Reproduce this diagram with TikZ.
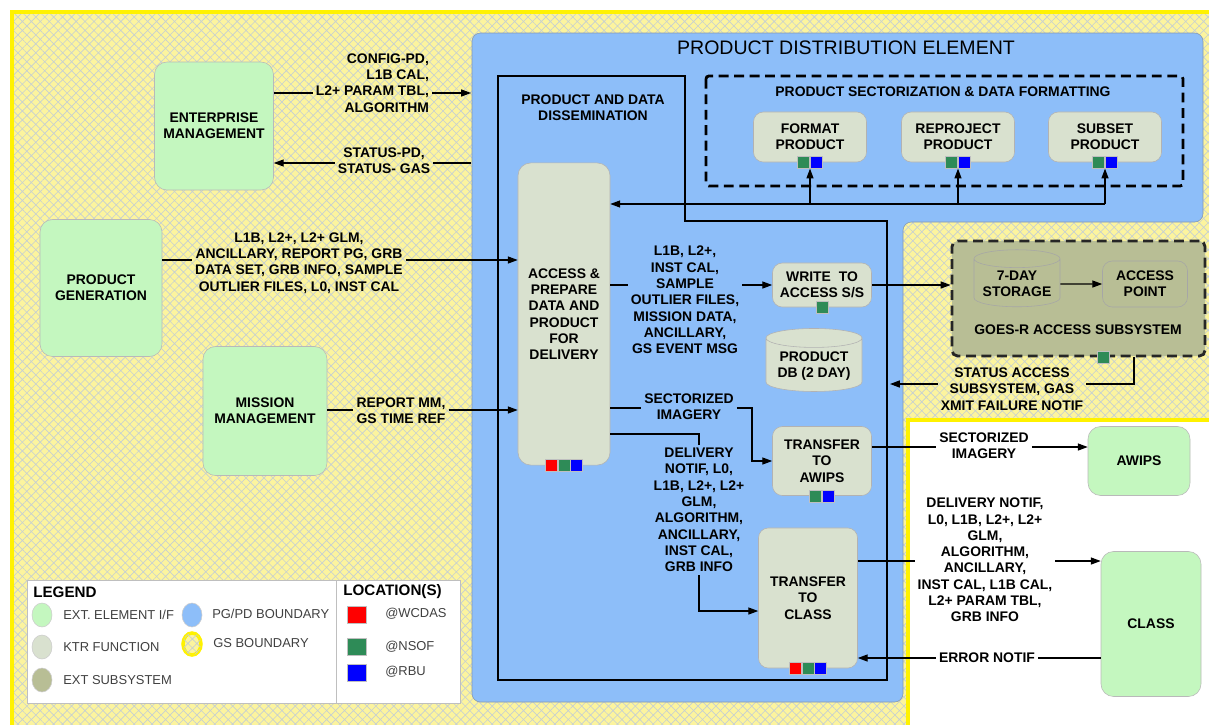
\documentclass[tikz,border=0pt]{standalone}
\usepackage{fontspec}
\setmainfont{Liberation Sans}
\usetikzlibrary{arrows.meta, shapes.geometric, patterns.meta}
\definecolor{gsyellow}{HTML}{FCF49E}
\definecolor{gshatch}{HTML}{C5CFD2}
\definecolor{pdblue}{HTML}{8DBEF9}
\definecolor{extfill}{HTML}{C4F7BF}
\definecolor{ktrfill}{HTML}{D9E1CF}
\definecolor{subfill}{HTML}{B8BE95}
\definecolor{wcdas}{HTML}{FF0000}
\definecolor{nsof}{HTML}{2E8B57}
\definecolor{rbu}{HTML}{0000FF}
\newcommand{\tagfont}{\fontsize{9.9}{11.6}\selectfont\bfseries}

\begin{document}
\begin{tikzpicture}[x=0.025cm, y=-0.025cm,
    extel/.style={draw=gray!55, fill=extfill, rounded corners=9pt, align=center, font=\tagfont, inner sep=2pt},
    ktr/.style={draw=gray!60, fill=ktrfill, rounded corners=7pt, align=center, font=\tagfont, inner sep=2pt},
    db/.style={cylinder, shape border rotate=90, aspect=0.25, draw=gray!60, fill=ktrfill, align=center, font=\tagfont, inner sep=1pt},
    txt/.style={align=center, font=\tagfont, inner sep=2pt},
    loc/.style={draw=gray!50, minimum width=0.3cm, minimum height=0.3cm, inner sep=0pt},
    link/.style={line width=0.8pt},
    flow/.style={link, -{Triangle[length=7pt, width=5pt]}},
    gs/.style={pattern={Hatch[angle=45, distance=4.5pt, line width=0.45pt]}, pattern color=gshatch},
    legtxt/.style={font=\fontsize{9.2}{10}\selectfont, text=black!75, anchor=west, inner sep=0pt}]
    \useasboundingbox (0,0) rectangle (1209,724);

    \fill[white] (0,0) rectangle (1209,724);
    \fill[gsyellow] (12,12) rectangle (1215,730);
    \fill[gs] (12,12) rectangle (1215,730);
    \draw[yellow, line width=3.5pt] (12,730) -- (12,12) -- (1215,12);
    \fill[white] (908,420) rectangle (1215,730);
    \draw[yellow, line width=3pt] (908,730) -- (908,420) -- (1215,420);

    \draw[gray!60!pdblue, fill=pdblue, rounded corners=6pt] (472,33) -- (1203,33) -- (1203,222) -- (903,222) -- (903,702) -- (472,702) -- cycle;
    \node[font=\fontsize{13.9}{15}\selectfont] (pd-title) at (846,48) {PRODUCT DISTRIBUTION ELEMENT};

    \draw[line width=1.3pt] (498,76) -- (685,76) -- (685,221) -- (887,221) -- (887,680) -- (498,680) -- cycle;
    \node[txt] (pdd-title) at (593,108) {PRODUCT AND DATA\\DISSEMINATION};
    \draw[line width=2pt, dash pattern=on 7pt off 4pt, rounded corners=2pt] (706,76) rectangle (1183,186);
    \node[txt] (sec-title) at (943,92) {PRODUCT SECTORIZATION \& DATA FORMATTING};

    \node[extel, minimum width=2.975cm, minimum height=3.2cm] (ent) at (214,126) {ENTERPRISE\\MANAGEMENT};
    \node[extel, minimum width=3.05cm, minimum height=3.425cm] (pgen) at (101,288) {PRODUCT\\GENERATION};
    \node[extel, minimum width=3.1cm, minimum height=3.225cm] (mm) at (265,411) {MISSION\\MANAGEMENT};
    \node[extel, minimum width=2.55cm, minimum height=1.725cm] (awips) at (1139,461) {AWIPS};
    \node[extel, minimum width=2.5cm, minimum height=3.625cm] (class) at (1151,624) {CLASS};

    \node[ktr, rounded corners=9pt, minimum width=2.3cm, minimum height=7.55cm] (access) at (564,314) {ACCESS \&\\PREPARE\\DATA AND\\PRODUCT\\FOR\\DELIVERY};
    \node[loc, fill=nsof] (access-n) at (access.south) {};
    \node[loc, fill=wcdas, anchor=east] (access-w) at (access-n.west) {};
    \node[loc, fill=rbu, anchor=west] (access-r) at (access-n.east) {};

    \foreach \n/\x/\t in {fmt/810/FORMAT, rep/958/REPROJECT, sub/1105/SUBSET} {
        \node[ktr, minimum width=2.825cm, minimum height=1.25cm] (\n) at (\x,137) {\t\\PRODUCT};
        \node[loc, fill=nsof, anchor=east] (\n-n) at (\n.south) {};
        \node[loc, fill=rbu, anchor=west] (\n-r) at (\n.south) {};
        \draw[flow] (\n.south |- 0,204) -- (\n-n.south east);
    }
    \draw[flow] (sub.south |- 0,204) -- (access.east |- 0,204);

    \node[ktr, minimum width=2.475cm, minimum height=1.1cm] (write) at (822,285) {WRITE\ \ TO\\ACCESS S/S};
    \node[loc, fill=nsof] (write-n) at (write.south) {};
    \node[db, minimum width=2.4cm, minimum height=1.575cm] (prod-db) at (814,366) {PRODUCT\\DB (2 DAY)};
    \node[ktr, minimum width=2.475cm, minimum height=1.725cm] (awipsx) at (822,461) {TRANSFER\\TO\\AWIPS};
    \node[loc, fill=nsof, anchor=east] (awipsx-n) at (awipsx.south) {};
    \node[loc, fill=rbu, anchor=west] (awipsx-r) at (awipsx.south) {};
    \node[ktr, minimum width=2.475cm, minimum height=3.5cm] (classx) at (808,598) {TRANSFER\\TO\\CLASS};
    \node[loc, fill=nsof] (classx-n) at (classx.south) {};
    \node[loc, fill=wcdas, anchor=east] (classx-w) at (classx-n.west) {};
    \node[loc, fill=rbu, anchor=west] (classx-r) at (classx-n.east) {};

    \node[draw=black!85, fill=subfill, line width=2pt, dash pattern=on 7pt off 4pt, rounded corners=4pt, minimum width=6.325cm, minimum height=2.875cm] (goes) at (1078.5,298.5) {};
    \node[db, fill=subfill, draw=gray!70, minimum width=2.15cm, minimum height=1.425cm] (store) at (1017,284) {7-DAY\\STORAGE};
    \node[ktr, fill=subfill, draw=gray!70, minimum width=2.125cm, minimum height=1.15cm] (ap) at (1145,284) {ACCESS\\POINT};
    \node[txt] (goes-cap) at (1078,330) {GOES-R ACCESS SUBSYSTEM};
    \node[loc, fill=nsof] (goes-n) at (goes.south -| 1103,0) {};
    \draw[flow] (store.east) -- (ap.west);

    \coordinate (pd-cfg) at (471,93);
    \coordinate (pd-stat) at (471,163);
    \coordinate (pdd-in) at (890,384);
    \coordinate (si-bend) at (752,408);

    \node[txt, align=right, anchor=east] (cfg) at (432,83) {CONFIG-PD,\\L1B CAL,\\L2+ PARAM TBL,\\ALGORITHM};
    \draw[link] (ent.east |- 0,93) -- (cfg.west |- 0,93);
    \draw[flow] (cfg.east |- 0,93) -- (pd-cfg);
    \node[txt] (stat) at (384,161) {STATUS-PD,\\STATUS- GAS};
    \draw[link] (pd-stat) -- (stat.east |- 0,163);
    \draw[flow] (stat.west |- 0,163) -- (ent.east |- 0,163);

    \node[txt] (pgl) at (299,263) {L1B, L2+, L2+ GLM,\\ANCILLARY, REPORT PG, GRB\\DATA SET, GRB INFO, SAMPLE\\OUTLIER FILES, L0, INST CAL};
    \draw[link] (pgen.east |- 0,260) -- (pgl.west |- 0,260);
    \draw[flow] (pgl.east |- 0,260) -- (access.west |- 0,260);
    \node[txt] (mml) at (401,411) {REPORT MM,\\GS TIME REF};
    \draw[link] (mm.east |- 0,410) -- (mml.west |- 0,410);
    \draw[flow] (mml.east |- 0,410) -- (access.west |- 0,410);

    \node[txt] (wl) at (685,300) {L1B, L2+,\\INST CAL,\\SAMPLE\\OUTLIER FILES,\\MISSION DATA,\\ANCILLARY,\\GS EVENT MSG};
    \draw[link] (access.east |- 0,285) -- (wl.west |- 0,285);
    \draw[flow] (wl.east |- 0,285) -- (write.west);
    \draw[flow] (write.east) -- (goes.west |- write.east);

    \node[txt] (stl) at (1012,389) {STATUS ACCESS\\SUBSYSTEM, GAS\\XMIT FAILURE NOTIF};
    \draw[link] (goes.south -| 1134,0) |- (stl.east |- 0,384);
    \draw[flow] (stl.west |- 0,384) -- (pdd-in);

    \node[txt] (sil) at (689,407) {SECTORIZED\\IMAGERY};
    \draw[link] (access.east |- si-bend) -- (sil.west |- si-bend);
    \draw[flow] (sil.east |- si-bend) -- (si-bend) |- (awipsx.west);
    \node[txt] (dl) at (699,510) {DELIVERY\\NOTIF, L0,\\L1B, L2+, L2+\\GLM,\\ALGORITHM,\\ANCILLARY,\\INST CAL,\\GRB INFO};
    \draw[link] (access.east |- 0,434) -| (dl.north);
    \draw[flow] (dl.south) |- (classx.west |- 0,611);

    \node[txt] (al) at (984,446) {SECTORIZED\\IMAGERY};
    \draw[link] (awipsx.east |- 0,447) -- (al.west |- 0,447);
    \draw[flow] (al.east |- 0,447) -- (awips.west |- 0,447);
    \node[txt] (cl) at (985,560) {DELIVERY NOTIF,\\L0, L1B, L2+, L2+\\GLM,\\ALGORITHM,\\ANCILLARY,\\INST CAL, L1B CAL,\\L2+ PARAM TBL,\\GRB INFO};
    \draw[link] (classx.east |- 0,561) -- (cl.west |- 0,561);
    \draw[flow] (cl.east |- 0,561) -- (class.west |- 0,561);
    \node[txt] (el) at (987,658) {ERROR NOTIF};
    \draw[link] (class.west |- 0,658) -- (el.east |- 0,658);
    \draw[flow] (el.west |- 0,658) -- (classx.east |- 0,658);

    \draw[gray!50, fill=white] (27,580) rectangle (460,703);
    \draw[gray!50] (336,580) -- (336,703);
    \node[anchor=west, font=\fontsize{10.8}{12}\selectfont\bfseries, inner sep=0pt] (leg-title) at (33,592) {LEGEND};
    \node[anchor=west, font=\fontsize{10.8}{12}\selectfont\bfseries, inner sep=0pt] (loc-title) at (343,592) {LOCATION(S)};
    \node[ellipse, draw=gray!40, fill=extfill, minimum width=0.5cm, minimum height=0.6cm, inner sep=0pt] (leg-ext) at (42,615) {};
    \node[legtxt] (leg-ext-t) at (63,615) {EXT. ELEMENT I/F};
    \node[ellipse, draw=gray!40, fill=ktrfill, minimum width=0.5cm, minimum height=0.6cm, inner sep=0pt] (leg-ktr) at (42,647) {};
    \node[legtxt] (leg-ktr-t) at (63,647) {KTR FUNCTION};
    \node[ellipse, draw=gray!40, fill=subfill, minimum width=0.5cm, minimum height=0.6cm, inner sep=0pt] (leg-sub) at (42,680) {};
    \node[legtxt] (leg-sub-t) at (63,680) {EXT SUBSYSTEM};
    \node[ellipse, draw=gray!40, fill=pdblue, minimum width=0.5cm, minimum height=0.6cm, inner sep=0pt] (leg-pd) at (192,615) {};
    \node[legtxt] (leg-pd-t) at (212,614) {PG/PD BOUNDARY};
    \node[ellipse, draw=yellow, line width=2.5pt, fill=gsyellow, postaction={gs}, minimum width=0.45cm, minimum height=0.55cm, inner sep=0pt] (leg-gs) at (192,644) {};
    \node[legtxt] (leg-gs-t) at (213,643) {GS BOUNDARY};
    \node[loc, fill=wcdas, minimum width=0.475cm, minimum height=0.425cm] (leg-w) at (357,615) {};
    \node[legtxt] (leg-w-t) at (385,614) {@WCDAS};
    \node[loc, fill=nsof, minimum width=0.475cm, minimum height=0.425cm] (leg-n) at (357,647) {};
    \node[legtxt] (leg-n-t) at (385,647) {@NSOF};
    \node[loc, fill=rbu, minimum width=0.475cm, minimum height=0.425cm] (leg-r) at (357,673) {};
    \node[legtxt] (leg-r-t) at (385,672) {@RBU};
\end{tikzpicture}
\end{document}
